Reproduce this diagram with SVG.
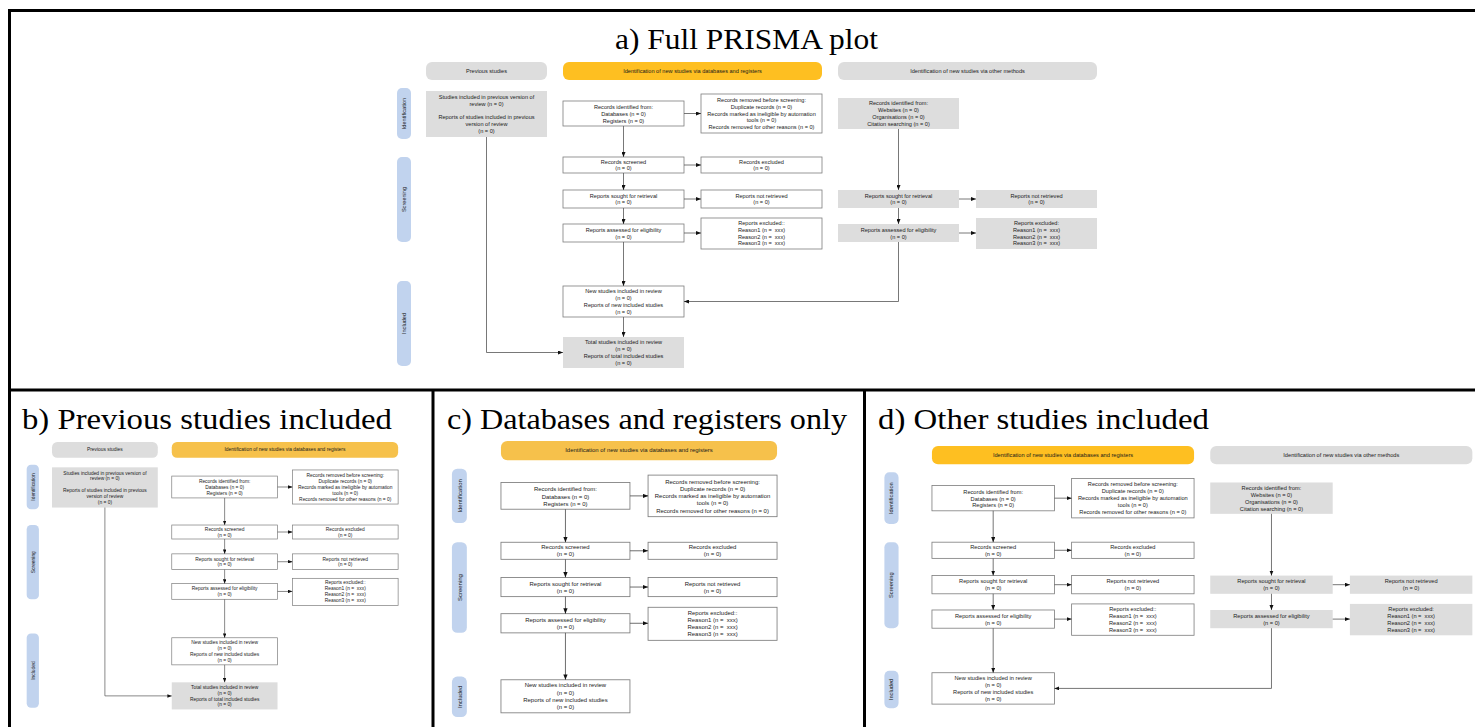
<svg xmlns="http://www.w3.org/2000/svg" width="1475" height="727" viewBox="0 0 1475 727">
<style>
.t{font-family:"Liberation Sans",Arial,sans-serif;font-size:5.6px;fill:#1a1a1a;text-anchor:middle}
.ttl{font-family:"Liberation Serif","Times New Roman",serif;font-size:30px;fill:#000}
.bx{fill:#fff;stroke:#7d7d7d;stroke-width:0.8}
.gb{fill:#dddddd}
.hg{fill:#dddddd}
.hy{fill:#febf21}
.hy2{fill:#f6c14b}
.sd{fill:#c1d3ee}
.e{fill:none;stroke:#555;stroke-width:0.8;marker-end:url(#ah)}
.ln{fill:none;stroke:#555;stroke-width:0.8}
.fr{fill:none;stroke:#000;stroke-width:3}
</style>
<defs>
<marker id="ah" markerUnits="userSpaceOnUse" markerWidth="5" markerHeight="4" refX="5" refY="2" orient="auto"><path d="M0,0 L5,2 L0,4 z" fill="#111"/></marker>
</defs>
<rect x="0" y="0" width="1475" height="727" fill="#fff"/>
<g id="frame">
<path class="fr" d="M9.5,727 V10.5 H1475"/>
<path class="fr" d="M9.5,390 H1475"/>
<path class="fr" d="M433,390 V727"/>
<path class="fr" d="M864.5,390 V727"/>
</g>
<g id="titles">
<text class="ttl" x="615" y="48.5" textLength="263" lengthAdjust="spacingAndGlyphs">a) Full PRISMA plot</text>
<text class="ttl" x="22" y="429" textLength="370" lengthAdjust="spacingAndGlyphs">b) Previous studies included</text>
<text class="ttl" x="447" y="429" textLength="400" lengthAdjust="spacingAndGlyphs">c) Databases and registers only</text>
<text class="ttl" x="878" y="429" textLength="331" lengthAdjust="spacingAndGlyphs">d) Other studies included</text>
</g>

<!-- PANEL A -->
<g id="panel-a">
<g id="a-hdr-prev"><rect class="hg" x="426" y="62" width="121" height="18" rx="6"/><text class="t" x="486.5" y="72.8">Previous studies</text></g>
<g id="a-hdr-db"><rect class="hy" x="563" y="62" width="259" height="18" rx="6"/><text class="t" x="692.5" y="72.8">Identification of new studies via databases and registers</text></g>
<g id="a-hdr-other"><rect class="hg" x="838" y="62" width="259" height="18" rx="6"/><text class="t" x="967.5" y="72.8">Identification of new studies via other methods</text></g>
<g id="a-side-id"><rect class="sd" x="397" y="88" width="14" height="51" rx="5"/><text class="t" transform="rotate(-90 404 113.5)" x="404" y="115.5">Identification</text></g>
<g id="a-side-sc"><rect class="sd" x="397" y="157" width="14" height="85" rx="5"/><text class="t" transform="rotate(-90 404 199.5)" x="404" y="201.5">Screening</text></g>
<g id="a-side-in"><rect class="sd" x="397" y="281" width="14" height="85" rx="5"/><text class="t" transform="rotate(-90 404 323.5)" x="404" y="325.5">Included</text></g>
<g id="a-prev"><rect class="gb" x="426" y="91" width="121" height="46"/><text class="t" x="486.5" y="99.3">Studies included in previous version of</text><text class="t" x="486.5" y="106">review (n = 0)</text><text class="t" x="486.5" y="119.3">Reports of studies included in previous</text><text class="t" x="486.5" y="126.3">version of review</text><text class="t" x="486.5" y="133">(n = 0)</text></g>
<g id="a-recid"><rect class="bx" x="563" y="101" width="121" height="25"/><text class="t" x="623.5" y="109.3">Records identified from:</text><text class="t" x="623.5" y="116">Databases (n = 0)</text><text class="t" x="623.5" y="122.7">Registers (n = 0)</text></g>
<g id="a-recrem"><rect class="bx" x="701" y="94" width="121" height="39"/><text class="t" x="761.5" y="101.9">Records removed before screening:</text><text class="t" x="761.5" y="108.7">Duplicate records (n = 0)</text><text class="t" x="761.5" y="115.5">Records marked as ineligible by automation</text><text class="t" x="761.5" y="122.3">tools (n = 0)</text><text class="t" x="761.5" y="129.1">Records removed for other reasons (n = 0)</text></g>
<g id="a-recscr"><rect class="bx" x="563" y="157" width="121" height="16"/><text class="t" x="623.5" y="163.7">Records screened</text><text class="t" x="623.5" y="170.3">(n = 0)</text></g>
<g id="a-recexc"><rect class="bx" x="701" y="157" width="121" height="16"/><text class="t" x="761.5" y="163.7">Records excluded</text><text class="t" x="761.5" y="170.3">(n = 0)</text></g>
<g id="a-rsought"><rect class="bx" x="563" y="190" width="121" height="18"/><text class="t" x="623.5" y="197.7">Reports sought for retrieval</text><text class="t" x="623.5" y="204.3">(n = 0)</text></g>
<g id="a-rnot"><rect class="bx" x="701" y="190" width="121" height="18"/><text class="t" x="761.5" y="197.7">Reports not retrieved</text><text class="t" x="761.5" y="204.3">(n = 0)</text></g>
<g id="a-rass"><rect class="bx" x="563" y="224" width="121" height="18"/><text class="t" x="623.5" y="231.7">Reports assessed for eligibility</text><text class="t" x="623.5" y="238.5">(n = 0)</text></g>
<g id="a-rexc"><rect class="bx" x="701" y="218" width="121" height="31"/><text class="t" x="761.5" y="225">Reports excluded::</text><text class="t" x="761.5" y="231.8" xml:space="preserve">Reason1 (n =  xxx)</text><text class="t" x="761.5" y="238.6" xml:space="preserve">Reason2 (n =  xxx)</text><text class="t" x="761.5" y="245.4" xml:space="preserve">Reason3 (n =  xxx)</text></g>
<g id="a-new"><rect class="bx" x="563" y="286" width="121" height="31"/><text class="t" x="623.5" y="293.2">New studies included in review</text><text class="t" x="623.5" y="300">(n = 0)</text><text class="t" x="623.5" y="306.8">Reports of new included studies</text><text class="t" x="623.5" y="313.6">(n = 0)</text></g>
<g id="a-total"><rect class="gb" x="563" y="337" width="121" height="31"/><text class="t" x="623.5" y="344.2">Total studies included in review</text><text class="t" x="623.5" y="351">(n = 0)</text><text class="t" x="623.5" y="357.8">Reports of total included studies</text><text class="t" x="623.5" y="364.6">(n = 0)</text></g>
<g id="a-orec"><rect class="gb" x="838" y="98" width="121" height="31"/><text class="t" x="898.5" y="105.3">Records identified from:</text><text class="t" x="898.5" y="112.1">Websites (n = 0)</text><text class="t" x="898.5" y="118.9">Organisations (n = 0)</text><text class="t" x="898.5" y="125.7">Citation searching (n = 0)</text></g>
<g id="a-osought"><rect class="gb" x="838" y="190" width="121" height="18"/><text class="t" x="898.5" y="197.7">Reports sought for retrieval</text><text class="t" x="898.5" y="204.3">(n = 0)</text></g>
<g id="a-onot"><rect class="gb" x="976" y="190" width="121" height="18"/><text class="t" x="1036.5" y="197.7">Reports not retrieved</text><text class="t" x="1036.5" y="204.3">(n = 0)</text></g>
<g id="a-oass"><rect class="gb" x="838" y="224" width="121" height="18"/><text class="t" x="898.5" y="231.7">Reports assessed for eligibility</text><text class="t" x="898.5" y="238.5">(n = 0)</text></g>
<g id="a-oexc"><rect class="gb" x="976" y="218" width="121" height="31"/><text class="t" x="1036.5" y="225">Reports excluded:</text><text class="t" x="1036.5" y="231.8" xml:space="preserve">Reason1 (n =  xxx)</text><text class="t" x="1036.5" y="238.6" xml:space="preserve">Reason2 (n =  xxx)</text><text class="t" x="1036.5" y="245.4" xml:space="preserve">Reason3 (n =  xxx)</text></g>
<g id="a-edges">
<path class="e" d="M623.5,126 V157"/><path class="e" d="M623.5,173 V190"/><path class="e" d="M623.5,208 V224"/><path class="e" d="M623.5,242 V286"/><path class="e" d="M623.5,317 V337"/>
<path class="e" d="M684,113.5 H701"/><path class="e" d="M684,165 H701"/><path class="e" d="M684,199 H701"/><path class="e" d="M684,233 H701"/>
<path class="e" d="M486.5,137 V352.5 H563"/>
<path class="e" d="M898.5,129 V190"/><path class="e" d="M898.5,208 V224"/><path class="e" d="M959,199 H976"/><path class="e" d="M959,233 H976"/><path class="e" d="M898.5,242 V301.5 H684"/>
</g>
</g>

<!-- PANEL B -->
<g id="panel-b" transform="matrix(0.874 0 0 0.874 -320.3 387.8)">
<g id="b-hdr-prev"><rect class="hg" x="426" y="62" width="121" height="18" rx="6"/><text class="t" x="486.5" y="72.8">Previous studies</text></g>
<g id="b-hdr-db"><rect class="hy2" x="563" y="62" width="259" height="18" rx="6"/><text class="t" x="692.5" y="72.8">Identification of new studies via databases and registers</text></g>
<g id="b-side-id"><rect class="sd" x="397" y="88" width="14" height="51" rx="5"/><text class="t" transform="rotate(-90 404 113.5)" x="404" y="115.5">Identification</text></g>
<g id="b-side-sc"><rect class="sd" x="397" y="157" width="14" height="85" rx="5"/><text class="t" transform="rotate(-90 404 199.5)" x="404" y="201.5">Screening</text></g>
<g id="b-side-in"><rect class="sd" x="397" y="281" width="14" height="85" rx="5"/><text class="t" transform="rotate(-90 404 323.5)" x="404" y="325.5">Included</text></g>
<g id="b-prev"><rect class="gb" x="426" y="91" width="121" height="46"/><text class="t" x="486.5" y="99.3">Studies included in previous version of</text><text class="t" x="486.5" y="106">review (n = 0)</text><text class="t" x="486.5" y="119.3">Reports of studies included in previous</text><text class="t" x="486.5" y="126.3">version of review</text><text class="t" x="486.5" y="133">(n = 0)</text></g>
<g id="b-recid"><rect class="bx" x="563" y="101" width="121" height="25"/><text class="t" x="623.5" y="109.3">Records identified from:</text><text class="t" x="623.5" y="116">Databases (n = 0)</text><text class="t" x="623.5" y="122.7">Registers (n = 0)</text></g>
<g id="b-recrem"><rect class="bx" x="701" y="94" width="121" height="39"/><text class="t" x="761.5" y="101.9">Records removed before screening:</text><text class="t" x="761.5" y="108.7">Duplicate records (n = 0)</text><text class="t" x="761.5" y="115.5">Records marked as ineligible by automation</text><text class="t" x="761.5" y="122.3">tools (n = 0)</text><text class="t" x="761.5" y="129.1">Records removed for other reasons (n = 0)</text></g>
<g id="b-recscr"><rect class="bx" x="563" y="157" width="121" height="16"/><text class="t" x="623.5" y="163.7">Records screened</text><text class="t" x="623.5" y="170.3">(n = 0)</text></g>
<g id="b-recexc"><rect class="bx" x="701" y="157" width="121" height="16"/><text class="t" x="761.5" y="163.7">Records excluded</text><text class="t" x="761.5" y="170.3">(n = 0)</text></g>
<g id="b-rsought"><rect class="bx" x="563" y="190" width="121" height="18"/><text class="t" x="623.5" y="197.7">Reports sought for retrieval</text><text class="t" x="623.5" y="204.3">(n = 0)</text></g>
<g id="b-rnot"><rect class="bx" x="701" y="190" width="121" height="18"/><text class="t" x="761.5" y="197.7">Reports not retrieved</text><text class="t" x="761.5" y="204.3">(n = 0)</text></g>
<g id="b-rass"><rect class="bx" x="563" y="224" width="121" height="18"/><text class="t" x="623.5" y="231.7">Reports assessed for eligibility</text><text class="t" x="623.5" y="238.5">(n = 0)</text></g>
<g id="b-rexc"><rect class="bx" x="701" y="218" width="121" height="31"/><text class="t" x="761.5" y="225">Reports excluded::</text><text class="t" x="761.5" y="231.8" xml:space="preserve">Reason1 (n =  xxx)</text><text class="t" x="761.5" y="238.6" xml:space="preserve">Reason2 (n =  xxx)</text><text class="t" x="761.5" y="245.4" xml:space="preserve">Reason3 (n =  xxx)</text></g>
<g id="b-new"><rect class="bx" x="563" y="286" width="121" height="31"/><text class="t" x="623.5" y="293.2">New studies included in review</text><text class="t" x="623.5" y="300">(n = 0)</text><text class="t" x="623.5" y="306.8">Reports of new included studies</text><text class="t" x="623.5" y="313.6">(n = 0)</text></g>
<g id="b-total"><rect class="gb" x="563" y="337" width="121" height="31"/><text class="t" x="623.5" y="344.2">Total studies included in review</text><text class="t" x="623.5" y="351">(n = 0)</text><text class="t" x="623.5" y="357.8">Reports of total included studies</text><text class="t" x="623.5" y="364.6">(n = 0)</text></g>
<g id="b-edges">
<path class="e" d="M623.5,126 V157"/><path class="e" d="M623.5,173 V190"/><path class="e" d="M623.5,208 V224"/><path class="e" d="M623.5,242 V286"/><path class="e" d="M623.5,317 V337"/>
<path class="e" d="M684,113.5 H701"/><path class="e" d="M684,165 H701"/><path class="e" d="M684,199 H701"/><path class="e" d="M684,233 H701"/>
<path class="e" d="M486.5,137 V352.5 H563"/>
</g>
</g>

<!-- PANEL C -->
<g id="panel-c" transform="matrix(1.066 0 0 1.066 -99.2 374.9)">
<g id="c-hdr-db"><rect class="hy2" x="563" y="62" width="259" height="18" rx="6"/><text class="t" x="692.5" y="72.8">Identification of new studies via databases and registers</text></g>
<g id="c-side-id"><rect class="sd" x="517" y="88" width="14" height="51" rx="5"/><text class="t" transform="rotate(-90 524 113.5)" x="524" y="115.5">Identification</text></g>
<g id="c-side-sc"><rect class="sd" x="517" y="157" width="14" height="85" rx="5"/><text class="t" transform="rotate(-90 524 199.5)" x="524" y="201.5">Screening</text></g>
<g id="c-side-in"><rect class="sd" x="517" y="283" width="14" height="38" rx="5"/><text class="t" transform="rotate(-90 524 302)" x="524" y="304">Included</text></g>
<g id="c-recid"><rect class="bx" x="563" y="101" width="121" height="25"/><text class="t" x="623.5" y="109.3">Records identified from:</text><text class="t" x="623.5" y="116">Databases (n = 0)</text><text class="t" x="623.5" y="122.7">Registers (n = 0)</text></g>
<g id="c-recrem"><rect class="bx" x="701" y="94" width="121" height="39"/><text class="t" x="761.5" y="101.9">Records removed before screening:</text><text class="t" x="761.5" y="108.7">Duplicate records (n = 0)</text><text class="t" x="761.5" y="115.5">Records marked as ineligible by automation</text><text class="t" x="761.5" y="122.3">tools (n = 0)</text><text class="t" x="761.5" y="129.1">Records removed for other reasons (n = 0)</text></g>
<g id="c-recscr"><rect class="bx" x="563" y="157" width="121" height="16"/><text class="t" x="623.5" y="163.7">Records screened</text><text class="t" x="623.5" y="170.3">(n = 0)</text></g>
<g id="c-recexc"><rect class="bx" x="701" y="157" width="121" height="16"/><text class="t" x="761.5" y="163.7">Records excluded</text><text class="t" x="761.5" y="170.3">(n = 0)</text></g>
<g id="c-rsought"><rect class="bx" x="563" y="190" width="121" height="18"/><text class="t" x="623.5" y="197.7">Reports sought for retrieval</text><text class="t" x="623.5" y="204.3">(n = 0)</text></g>
<g id="c-rnot"><rect class="bx" x="701" y="190" width="121" height="18"/><text class="t" x="761.5" y="197.7">Reports not retrieved</text><text class="t" x="761.5" y="204.3">(n = 0)</text></g>
<g id="c-rass"><rect class="bx" x="563" y="224" width="121" height="18"/><text class="t" x="623.5" y="231.7">Reports assessed for eligibility</text><text class="t" x="623.5" y="238.5">(n = 0)</text></g>
<g id="c-rexc"><rect class="bx" x="701" y="218" width="121" height="31"/><text class="t" x="761.5" y="225">Reports excluded::</text><text class="t" x="761.5" y="231.8" xml:space="preserve">Reason1 (n =  xxx)</text><text class="t" x="761.5" y="238.6" xml:space="preserve">Reason2 (n =  xxx)</text><text class="t" x="761.5" y="245.4" xml:space="preserve">Reason3 (n =  xxx)</text></g>
<g id="c-new"><rect class="bx" x="563" y="286" width="121" height="31"/><text class="t" x="623.5" y="293.2">New studies included in review</text><text class="t" x="623.5" y="300">(n = 0)</text><text class="t" x="623.5" y="306.8">Reports of new included studies</text><text class="t" x="623.5" y="313.6">(n = 0)</text></g>
<g id="c-edges">
<path class="e" d="M623.5,126 V157"/><path class="e" d="M623.5,173 V190"/><path class="e" d="M623.5,208 V224"/><path class="e" d="M623.5,242 V286"/>
<path class="e" d="M684,113.5 H701"/><path class="e" d="M684,165 H701"/><path class="e" d="M684,199 H701"/><path class="e" d="M684,233 H701"/>
</g>
</g>

<!-- PANEL D -->
<g id="panel-d" transform="matrix(1.012 0 0 1.012 362.2 383.3)">
<g id="d-hdr-db"><rect class="hy" x="563" y="62" width="259" height="18" rx="6"/><text class="t" x="692.5" y="72.8">Identification of new studies via databases and registers</text></g>
<g id="d-hdr-other"><rect class="hg" x="838" y="62" width="259" height="18" rx="6"/><text class="t" x="967.5" y="72.8">Identification of new studies via other methods</text></g>
<g id="d-side-id"><rect class="sd" x="516" y="88" width="14" height="51" rx="5"/><text class="t" transform="rotate(-90 523 113.5)" x="523" y="115.5">Identification</text></g>
<g id="d-side-sc"><rect class="sd" x="516" y="157" width="14" height="85" rx="5"/><text class="t" transform="rotate(-90 523 199.5)" x="523" y="201.5">Screening</text></g>
<g id="d-side-in"><rect class="sd" x="516" y="284" width="14" height="37" rx="5"/><text class="t" transform="rotate(-90 523 302.5)" x="523" y="304.5">Included</text></g>
<g id="d-recid"><rect class="bx" x="563" y="101" width="121" height="25"/><text class="t" x="623.5" y="109.3">Records identified from:</text><text class="t" x="623.5" y="116">Databases (n = 0)</text><text class="t" x="623.5" y="122.7">Registers (n = 0)</text></g>
<g id="d-recrem"><rect class="bx" x="701" y="94" width="121" height="39"/><text class="t" x="761.5" y="101.9">Records removed before screening:</text><text class="t" x="761.5" y="108.7">Duplicate records (n = 0)</text><text class="t" x="761.5" y="115.5">Records marked as ineligible by automation</text><text class="t" x="761.5" y="122.3">tools (n = 0)</text><text class="t" x="761.5" y="129.1">Records removed for other reasons (n = 0)</text></g>
<g id="d-recscr"><rect class="bx" x="563" y="157" width="121" height="16"/><text class="t" x="623.5" y="163.7">Records screened</text><text class="t" x="623.5" y="170.3">(n = 0)</text></g>
<g id="d-recexc"><rect class="bx" x="701" y="157" width="121" height="16"/><text class="t" x="761.5" y="163.7">Records excluded</text><text class="t" x="761.5" y="170.3">(n = 0)</text></g>
<g id="d-rsought"><rect class="bx" x="563" y="190" width="121" height="18"/><text class="t" x="623.5" y="197.7">Reports sought for retrieval</text><text class="t" x="623.5" y="204.3">(n = 0)</text></g>
<g id="d-rnot"><rect class="bx" x="701" y="190" width="121" height="18"/><text class="t" x="761.5" y="197.7">Reports not retrieved</text><text class="t" x="761.5" y="204.3">(n = 0)</text></g>
<g id="d-rass"><rect class="bx" x="563" y="224" width="121" height="18"/><text class="t" x="623.5" y="231.7">Reports assessed for eligibility</text><text class="t" x="623.5" y="238.5">(n = 0)</text></g>
<g id="d-rexc"><rect class="bx" x="701" y="218" width="121" height="31"/><text class="t" x="761.5" y="225">Reports excluded::</text><text class="t" x="761.5" y="231.8" xml:space="preserve">Reason1 (n =  xxx)</text><text class="t" x="761.5" y="238.6" xml:space="preserve">Reason2 (n =  xxx)</text><text class="t" x="761.5" y="245.4" xml:space="preserve">Reason3 (n =  xxx)</text></g>
<g id="d-new"><rect class="bx" x="563" y="286" width="121" height="31"/><text class="t" x="623.5" y="293.2">New studies included in review</text><text class="t" x="623.5" y="300">(n = 0)</text><text class="t" x="623.5" y="306.8">Reports of new included studies</text><text class="t" x="623.5" y="313.6">(n = 0)</text></g>
<g id="d-orec"><rect class="gb" x="838" y="98" width="121" height="31"/><text class="t" x="898.5" y="105.3">Records identified from:</text><text class="t" x="898.5" y="112.1">Websites (n = 0)</text><text class="t" x="898.5" y="118.9">Organisations (n = 0)</text><text class="t" x="898.5" y="125.7">Citation searching (n = 0)</text></g>
<g id="d-osought"><rect class="gb" x="838" y="190" width="121" height="18"/><text class="t" x="898.5" y="197.7">Reports sought for retrieval</text><text class="t" x="898.5" y="204.3">(n = 0)</text></g>
<g id="d-onot"><rect class="gb" x="976" y="190" width="121" height="18"/><text class="t" x="1036.5" y="197.7">Reports not retrieved</text><text class="t" x="1036.5" y="204.3">(n = 0)</text></g>
<g id="d-oass"><rect class="gb" x="838" y="224" width="121" height="18"/><text class="t" x="898.5" y="231.7">Reports assessed for eligibility</text><text class="t" x="898.5" y="238.5">(n = 0)</text></g>
<g id="d-oexc"><rect class="gb" x="976" y="218" width="121" height="31"/><text class="t" x="1036.5" y="225">Reports excluded:</text><text class="t" x="1036.5" y="231.8" xml:space="preserve">Reason1 (n =  xxx)</text><text class="t" x="1036.5" y="238.6" xml:space="preserve">Reason2 (n =  xxx)</text><text class="t" x="1036.5" y="245.4" xml:space="preserve">Reason3 (n =  xxx)</text></g>
<g id="d-edges">
<path class="e" d="M623.5,126 V157"/><path class="e" d="M623.5,173 V190"/><path class="e" d="M623.5,208 V224"/><path class="e" d="M623.5,242 V286"/>
<path class="e" d="M684,113.5 H701"/><path class="e" d="M684,165 H701"/><path class="e" d="M684,199 H701"/><path class="e" d="M684,233 H701"/>
<path class="e" d="M898.5,129 V190"/><path class="e" d="M898.5,208 V224"/><path class="e" d="M959,199 H976"/><path class="e" d="M959,233 H976"/><path class="e" d="M898.5,242 V301.5 H684"/>
</g>
</g>
</svg>
